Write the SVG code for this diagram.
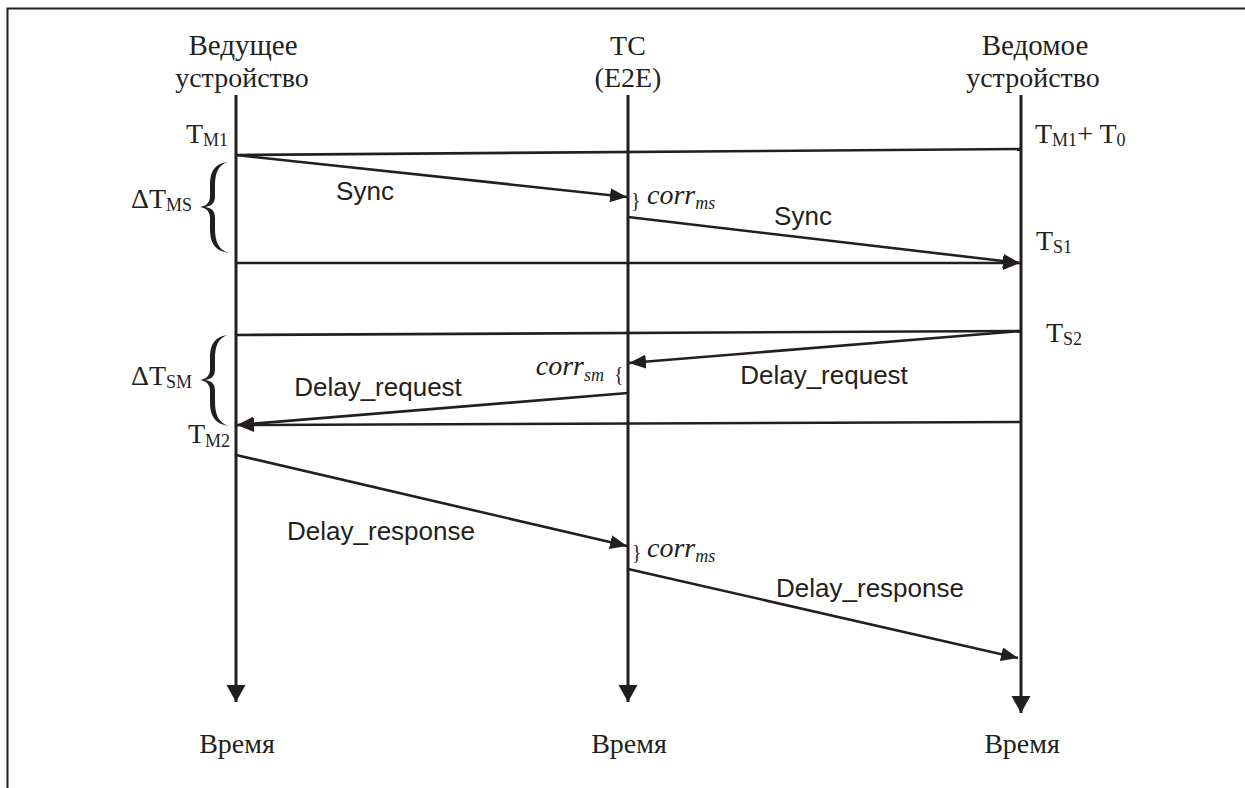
<svg xmlns="http://www.w3.org/2000/svg" width="1245" height="788" viewBox="0 0 1245 788">
<style>
.serif{font-family:"Liberation Serif","Times New Roman",serif;font-size:28px;fill:#231f20}
.sans{font-family:"Liberation Sans",Arial,sans-serif;font-size:26px;fill:#231f20}
.it{font-family:"Liberation Serif","Times New Roman",serif;font-style:italic;font-size:28px;fill:#231f20}
.sub{font-size:18px}
.ln{stroke:#231f20;stroke-width:2.6;fill:none}
.life{stroke:#231f20;stroke-width:3;fill:none}
.brace{fill:#231f20;stroke:none}
</style>
<defs>
<marker id="ah" markerUnits="userSpaceOnUse" markerWidth="18" markerHeight="14" refX="17" refY="7" orient="auto">
<path d="M0,0 L17,7 L0,14 z" fill="#231f20"/>
</marker>
<marker id="ahl" markerUnits="userSpaceOnUse" markerWidth="18" markerHeight="20" refX="17" refY="9.5" orient="auto">
<path d="M0,0 L17,9.5 L0,19 z" fill="#231f20"/>
</marker>
<path id="br" d="M228,162 C213,164 210,173 210,186 L210,196 C210,203 206,206 200,207 C206,208 210,211 210,218 L210,228 C210,241 213,250 228,253 C218,249 215,241 215,228 L215,218 C215,211 212,208 205,207 C212,206 215,203 215,196 L215,186 C215,173 218,165 228,162 z"/>
</defs>
<rect width="1245" height="788" fill="#fff"/>
<path d="M7.5,788 V8.5 H1245" stroke="#231f20" stroke-width="2" fill="none"/>

<g id="master">
<text class="serif" x="243" y="55" text-anchor="middle" style="font-size:29px">Ведущее</text>
<text class="serif" x="242" y="87" text-anchor="middle">устройство</text>
<line class="life" x1="236" y1="95" x2="236" y2="702" marker-end="url(#ahl)"/>
<text class="serif" x="237" y="753" text-anchor="middle">Время</text>
</g>
<g id="tc">
<text class="serif" x="628" y="55" text-anchor="middle">TC</text>
<text class="serif" x="628" y="87" text-anchor="middle">(E2E)</text>
<line class="life" x1="628" y1="95" x2="628" y2="702" marker-end="url(#ahl)"/>
<text class="serif" x="629" y="753" text-anchor="middle">Время</text>
</g>
<g id="slave">
<text class="serif" x="1035" y="55" text-anchor="middle" style="font-size:29px">Ведомое</text>
<text class="serif" x="1033" y="87" text-anchor="middle">устройство</text>
<line class="life" x1="1021" y1="95" x2="1021" y2="713" marker-end="url(#ahl)"/>
<text class="serif" x="1022" y="753" text-anchor="middle">Время</text>
</g>

<g id="labels">
<text class="serif" x="228" y="143" text-anchor="end">T<tspan class="sub" dy="3">M1</tspan></text>
<text class="serif" x="192" y="208" text-anchor="end">ΔT<tspan class="sub" dy="3">MS</tspan></text>
<text class="serif" x="192" y="385" text-anchor="end">ΔT<tspan class="sub" dy="3">SM</tspan></text>
<text class="serif" x="230" y="443" text-anchor="end">T<tspan class="sub" dy="4">M2</tspan></text>
<text class="serif" x="1035" y="143">T<tspan class="sub" dy="3">M1</tspan><tspan dy="-3">+ T</tspan><tspan class="sub" dy="3">0</tspan></text>
<text class="serif" x="1036" y="250">T<tspan class="sub" dy="3">S1</tspan></text>
<text class="serif" x="1046" y="342">T<tspan class="sub" dy="3">S2</tspan></text>
<use href="#br" class="brace"/>
<use href="#br" class="brace" transform="translate(0,173)"/>
<text class="serif" x="631" y="207" style="font-size:20px">}</text>
<text class="it" x="647" y="204">corr<tspan class="sub" dy="5">ms</tspan></text>
<text class="it" x="604" y="375" text-anchor="end">corr<tspan class="sub" dy="6">sm</tspan></text>
<text class="serif" x="614" y="381" style="font-size:20px">{</text>
<text class="serif" x="632" y="559" style="font-size:20px">}</text>
<text class="it" x="647" y="557">corr<tspan class="sub" dy="5">ms</tspan></text>
<text class="sans" x="365" y="200" text-anchor="middle">Sync</text>
<text class="sans" x="803" y="225" text-anchor="middle">Sync</text>
<text class="sans" x="378" y="396" text-anchor="middle">Delay_request</text>
<text class="sans" x="824" y="384" text-anchor="middle">Delay_request</text>
<text class="sans" x="381" y="540" text-anchor="middle">Delay_response</text>
<text class="sans" x="870" y="597" text-anchor="middle">Delay_response</text>
</g>

<g id="connectors">
<line class="ln" x1="236" y1="155" x2="1021" y2="149"/>
<line class="ln" x1="236" y1="155" x2="627" y2="197" marker-end="url(#ah)"/>
<line class="ln" x1="628" y1="217" x2="1020" y2="263" marker-end="url(#ah)"/>
<line class="ln" x1="236" y1="263" x2="1020" y2="263" marker-end="url(#ah)"/>
<line class="ln" x1="236" y1="335" x2="1021" y2="331"/>
<line class="ln" x1="1021" y1="331" x2="629" y2="363" marker-end="url(#ah)"/>
<line class="ln" x1="628" y1="393" x2="237" y2="425" marker-end="url(#ah)"/>
<line class="ln" x1="1021" y1="422" x2="237" y2="425" marker-end="url(#ah)"/>
<line class="ln" x1="236" y1="455" x2="627" y2="546" marker-end="url(#ah)"/>
<line class="ln" x1="628" y1="569" x2="1018" y2="658" marker-end="url(#ah)"/>
</g>
</svg>
